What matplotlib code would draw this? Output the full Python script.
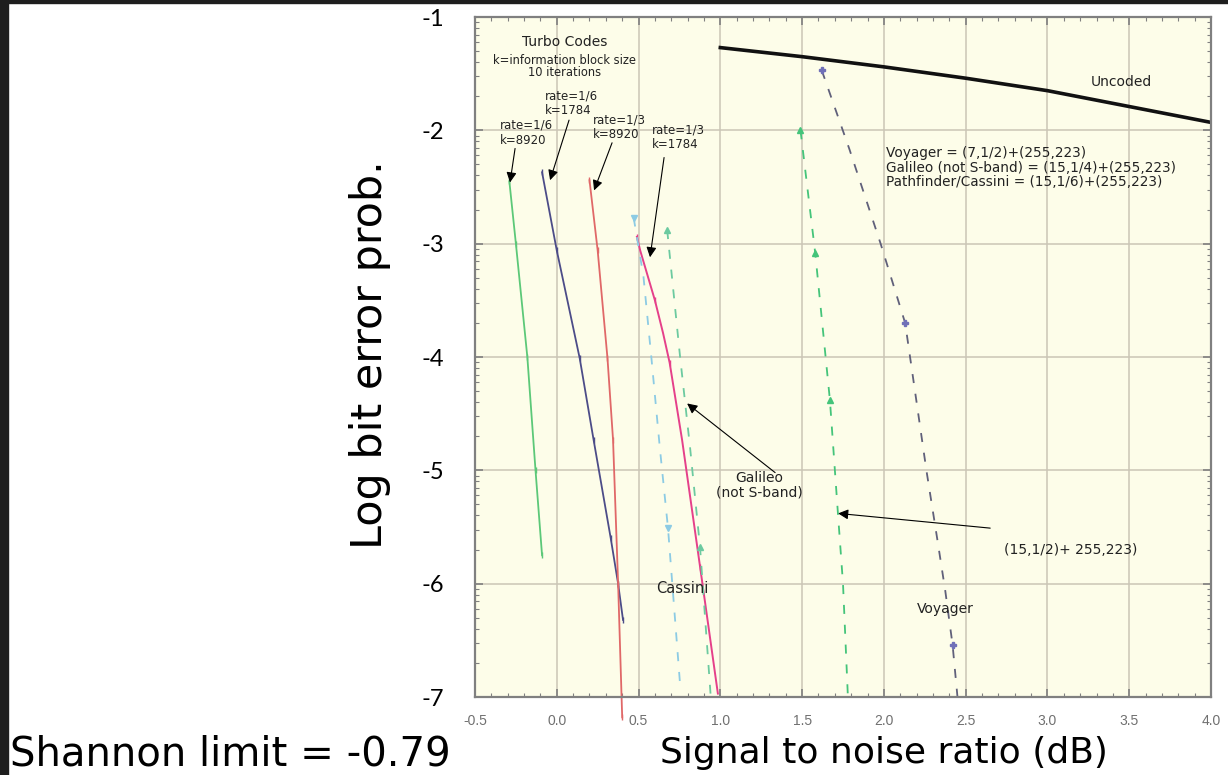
import numpy as np
import matplotlib.pyplot as plt
from matplotlib.patches import Rectangle

# values (x = Eb/N0 in dB, y = log10 BER)
uncoded_x = [1.0, 1.5, 2.0, 2.5, 3.0, 3.5, 4.0]
uncoded_y = [-1.27, -1.35, -1.44, -1.54, -1.65, -1.79, -1.93]

t16_8920_x = [-0.29, -0.25, -0.18, -0.13, -0.09]
t16_8920_y = [-2.45, -3.0, -4.0, -5.0, -5.75]

t16_1784_x = [-0.09, 0.0, 0.14, 0.225, 0.33, 0.375, 0.405]
t16_1784_y = [-2.37, -3.06, -4.01, -4.73, -5.6, -6.0, -6.32]

t13_8920_x = [0.20, 0.25, 0.31, 0.344, 0.375, 0.40]
t13_8920_y = [-2.44, -3.06, -4.01, -4.73, -6.0, -7.18]

t13_1784_x = [0.49, 0.51, 0.60, 0.65, 0.69, 0.766, 0.876, 0.985]
t13_1784_y = [-2.94, -3.06, -3.5, -3.79, -4.05, -4.73, -5.85, -6.97]

cassini_x = [0.47, 0.53, 0.58, 0.63, 0.68, 0.755]
cassini_y = [-2.77, -3.29, -4.03, -4.8, -5.51, -6.91]

pathfinder_x = [0.675, 0.754, 0.815, 0.876, 0.94]
pathfinder_y = [-2.88, -4.0, -4.8, -5.68, -6.97]

galileo_x = [1.49, 1.58, 1.67, 1.72, 1.75, 1.78]
galileo_y = [-2.0, -3.08, -4.38, -5.4, -6.0, -7.0]

voyager_x = [1.62, 1.79, 1.98, 2.13, 2.26, 2.33, 2.375, 2.42, 2.45]
voyager_y = [-1.47, -2.17, -3.0, -3.70, -5.0, -5.64, -6.06, -6.54, -7.0]

xticks = [-0.5, 0.0, 0.5, 1.0, 1.5, 2.0, 2.5, 3.0, 3.5, 4.0]
yticks = [-7, -6, -5, -4, -3, -2, -1]

fig = plt.figure(figsize=(12.28, 7.75), dpi=100)
fig.patch.set_facecolor('white')
fig.patches.append(Rectangle((0, 0), 8 / 1228, 1, transform=fig.transFigure, color='#1e1e1e', zorder=0))
fig.patches.append(Rectangle((0, 1 - 3 / 775), 1, 3 / 775, transform=fig.transFigure, color='#1e1e1e', zorder=0))

ax = fig.add_axes([475 / 1228, 1 - 697 / 775, (1211 - 475) / 1228, (697 - 17) / 775])
ax.set_facecolor('#fdfde9')
ax.set_xlim(-0.5, 4.0)
ax.set_ylim(-7, -1)
ax.grid(True, color='#cbc6b6', lw=1.1)
ax.set_axisbelow(True)
for s in ax.spines.values():
    s.set_color('#808080')
    s.set_linewidth(1.6)

ax.set_xticks(xticks)
ax.set_xticklabels(['%.1f' % v for v in xticks], color='#707070', fontsize=10, family='Liberation Sans')
ax.set_yticks(yticks)
ax.set_yticklabels([str(v) for v in yticks], fontsize=17, family='Lato')
ax.set_xticks(np.arange(-0.5, 4.01, 0.1), minor=True)
yminor = [n + np.log10(k) for n in range(-7, -1) for k in range(2, 10)]
ax.set_yticks(yminor, minor=True)
ax.tick_params(which='both', direction='in', top=True, right=True, color='#808080')
ax.tick_params(which='major', length=6, width=1.2)
ax.tick_params(which='minor', length=3, width=0.8)
ax.tick_params(axis='x', pad=12)
ax.tick_params(axis='y', pad=22)

ax.plot(uncoded_x, uncoded_y, color='#111111', lw=2.6)
ax.plot(t16_8920_x, t16_8920_y, color='#5cc878', lw=1.3, marker='|', ms=4)
ax.plot(t16_1784_x, t16_1784_y, color='#4c4c88', lw=1.3, marker='|', ms=4)
ax.plot(t13_8920_x, t13_8920_y, color='#e06868', lw=1.3, marker='|', ms=4, clip_on=False)
ax.plot(t13_1784_x, t13_1784_y, color='#e5408a', lw=1.4)
ax.plot(t13_1784_x[::2], t13_1784_y[::2], ls='none', color='#e5408a', marker='|', ms=4)
ax.plot(cassini_x, cassini_y, color='#8ccbe4', lw=1.3, ls=(0, (5, 6)))
ax.plot(cassini_x[::4], cassini_y[::4], ls='none', marker='v', ms=4, color='#8ccbe4')
ax.plot(pathfinder_x, pathfinder_y, color='#6ccaa0', lw=1.3, ls=(0, (5, 6)))
ax.plot([pathfinder_x[0], pathfinder_x[3]], [pathfinder_y[0], pathfinder_y[3]], ls='none', marker='^', ms=4, color='#6ccaa0')
ax.plot(galileo_x, galileo_y, color='#44c47a', lw=1.3, ls=(0, (5, 6)))
ax.plot(galileo_x[:3], galileo_y[:3], ls='none', marker='^', ms=5, color='#44c47a')
ax.plot(voyager_x, voyager_y, color='#60607a', lw=1.3, ls=(0, (5, 6)))
ax.plot([voyager_x[0], voyager_x[3], voyager_x[7]], [voyager_y[0], voyager_y[3], voyager_y[7]],
        ls='none', marker='P', ms=5, color='#7070b8')

tf = dict(family='DejaVu Sans', color='#222222')
ax.text(0.05, -1.22, 'Turbo Codes', ha='center', va='center', fontsize=10, **tf)
ax.text(0.05, -1.38, 'k=information block size', ha='center', va='center', fontsize=8.3, **tf)
ax.text(0.05, -1.49, '10 iterations', ha='center', va='center', fontsize=8.3, **tf)

# turbo code labels and their arrows
ax.text(-0.35, -1.9, 'rate=1/6\nk=8920', ha='left', va='top', fontsize=8.5, linespacing=1.15, **tf)
ax.text(-0.07, -1.64, 'rate=1/6\nk=1784', ha='left', va='top', fontsize=8.5, linespacing=1.15, **tf)
ax.text(0.22, -1.85, 'rate=1/3\nk=8920', ha='left', va='top', fontsize=8.5, linespacing=1.15, **tf)
ax.text(0.58, -1.94, 'rate=1/3\nk=1784', ha='left', va='top', fontsize=8.5, linespacing=1.15, **tf)

arr = dict(arrowstyle='-|>', color='black', lw=0.8, mutation_scale=15, shrinkA=0, shrinkB=0)
arrows = [((-0.255, -2.16), (-0.286, -2.46)),
          ((0.075, -1.91), (-0.041, -2.44)),
          ((0.338, -2.11), (0.228, -2.53)),
          ((0.656, -2.24), (0.57, -3.12)),
          ((1.335, -5.02), (0.797, -4.41)),
          ((2.65, -5.51), (1.72, -5.38))]
for start, tip in arrows:
    ax.annotate('', xy=tip, xytext=start, arrowprops=arr)

ax.text(2.01, -2.14, 'Voyager = (7,1/2)+(255,223)\nGalileo (not S-band) = (15,1/4)+(255,223)\n'
        'Pathfinder/Cassini = (15,1/6)+(255,223)', ha='left', va='top', fontsize=9.8,
        linespacing=1.05, **tf)
ax.text(3.45, -1.57, 'Uncoded', ha='center', va='center', fontsize=10, **tf)
ax.text(1.24, -5.13, 'Galileo\n(not S-band)', ha='center', va='center', fontsize=10,
        linespacing=1.0, **tf)
ax.text(3.14, -5.7, '(15,1/2)+ 255,223)', ha='center', va='center', fontsize=10, **tf)
ax.text(0.766, -6.04, 'Cassini', ha='center', va='center', fontsize=10.5, **tf)
ax.text(2.375, -6.22, 'Voyager', ha='center', va='center', fontsize=10, **tf)

fig.text(370 / 1228, 1 - 355 / 775, 'Log bit error prob.', rotation=90, ha='center', va='center',
         fontsize=31, family='DejaVu Sans')
fig.text(10 / 1228, 1 - 765 / 775, 'Shannon limit = -0.79', ha='left', va='baseline',
         fontsize=29, family='DejaVu Sans')
fig.text(660 / 1228, 1 - 763 / 775, 'Signal to noise ratio (dB)', ha='left', va='baseline',
         fontsize=26, family='DejaVu Sans')

fig.savefig('out.png', dpi=100)
